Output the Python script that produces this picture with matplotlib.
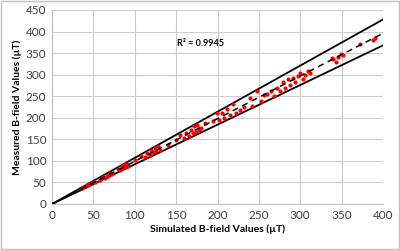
import numpy as np
import matplotlib.pyplot as plt

plt.rcParams['font.family'] = ['Lato', 'DejaVu Sans']

simulated = [36, 38, 42, 45, 48, 52, 58, 62, 64, 66, 68, 70, 72, 80, 82, 84, 85, 86, 88, 90, 92,
             100, 108, 112, 115, 118, 120, 122, 124, 126, 128, 130, 140, 150, 155, 160, 162, 165,
             168, 170, 172, 174, 175, 178, 180, 185, 195, 199, 202, 205, 208, 211, 215, 219, 222,
             227, 232, 239, 242, 248, 252, 256, 260, 265, 268, 272, 275, 279, 282, 285, 288, 291,
             294, 297, 300, 303, 306, 309, 312, 338, 340, 343, 346, 349, 352, 372, 388, 390]
measured = [38, 40, 44, 46, 50, 50, 55, 62, 60, 66, 65, 72, 70, 82, 78, 87, 84, 90, 86, 92, 88,
            102, 112, 110, 118, 114, 126, 120, 130, 122, 134, 126, 136, 148, 160, 154, 165, 158,
            172, 165, 180, 168, 184, 172, 176, 188, 192, 210, 196, 212, 200, 221, 206, 233, 212,
            217, 226, 247, 228, 263, 240, 252, 256, 262, 250, 270, 262, 282, 268, 290, 276, 293,
            283, 298, 305, 290, 300, 309, 305, 339, 337, 330, 340, 349, 346, 372, 381, 386]

fit_slope = 0.99
upper_slope = 1.07
lower_slope = 0.92
r_squared = 0.9945

fig = plt.figure(figsize=(4, 2.5), dpi=100)
ax = fig.add_axes([0.13, 0.184, 0.8275, 0.776])

# outer chart border like excel
fig.patches.append(plt.Rectangle((0.002, 0.004), 0.995, 0.992, transform=fig.transFigure,
                                 fill=False, edgecolor='#bfbfbf', linewidth=1))

x_line = np.array([0, 400])
ax.plot(x_line, upper_slope * x_line, color='black', lw=1.3, zorder=3)
ax.plot(x_line, lower_slope * x_line, color='black', lw=1.3, zorder=3)
ax.scatter(simulated, measured, s=9, color='#ff0000', zorder=4, linewidths=0)
ax.plot(x_line, fit_slope * x_line, color='black', lw=1.1, ls=(0, (4, 3)), zorder=5)

ax.set_xlim(0, 400)
ax.set_ylim(0, 450)
ax.set_xticks(np.arange(0, 401, 50))
ax.set_yticks(np.arange(0, 451, 50))
ax.grid(color='#cccccc', lw=0.8)
ax.set_axisbelow(True)
ax.tick_params(length=0, labelsize=8.5, colors='#404040', pad=4)
for s in ax.spines.values():
    s.set_visible(False)
ax.spines['bottom'].set_visible(True)
ax.spines['bottom'].set_color('#bfbfbf')
ax.spines['left'].set_visible(True)
ax.spines['left'].set_color('#bfbfbf')

ax.set_xlabel('Simulated B-field Values (\u00b5T)', fontsize=7.5, fontweight='bold', labelpad=3)
ax.set_ylabel('Measured B-field Values (\u00b5T)', fontsize=7.5, fontweight='bold', labelpad=3)
ax.text(179, 372, 'R\u00b2 = %.4f' % r_squared, fontsize=6.5, fontweight='bold', ha='center', va='center')

fig.savefig('out.png', dpi=100)
